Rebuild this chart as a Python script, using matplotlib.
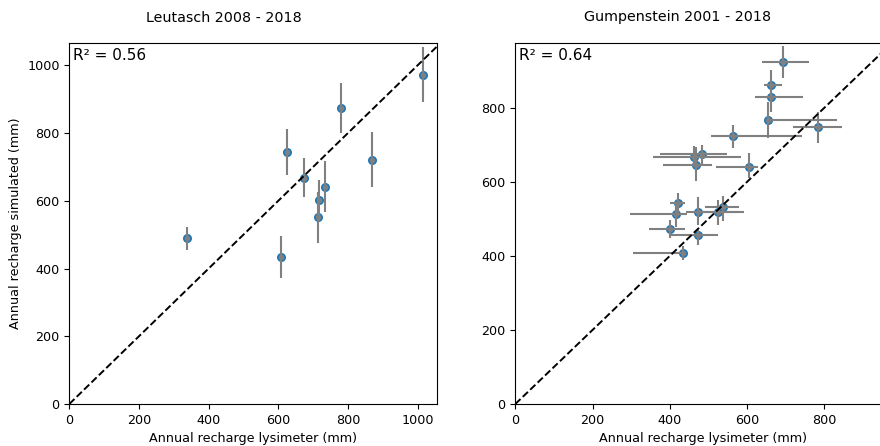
import numpy as np
import matplotlib
matplotlib.use("Agg")
import matplotlib.pyplot as plt

# Leutasch 2008 - 2018
leu_obs = [338, 608, 624, 675, 718, 715, 735, 780, 868, 1016]
leu_sim = [489, 435, 744, 668, 601, 551, 642, 874, 722, 973]
leu_sim_err = [33, 62, 67, 58, 60, 76, 76, 74, 80, 82]

# Gumpenstein 2001 - 2018
gum_obs = [692, 661, 662, 655, 785, 563, 420, 416, 472, 526, 537, 401, 472, 433, 463, 467, 484, 605]
gum_sim = [923, 863, 829, 766, 748, 724, 542, 514, 520, 518, 531, 474, 457, 407, 667, 646, 674, 641]
gum_obs_lo = [640, 645, 621, 655, 719, 506, 400, 297, 441, 470, 490, 347, 401, 306, 356, 382, 375, 520]
gum_obs_hi = [761, 690, 744, 833, 846, 742, 440, 444, 578, 593, 580, 440, 524, 440, 584, 510, 549, 628]
gum_sim_lo = [880, 823, 790, 718, 706, 691, 515, 479, 484, 484, 493, 448, 430, 389, 640, 603, 646, 610]
gum_sim_hi = [966, 903, 868, 817, 790, 754, 569, 542, 559, 551, 562, 497, 470, 427, 697, 695, 699, 677]

r2 = ["R\u00b2 = 0.56", "R\u00b2 = 0.64"]
titles = ["Leutasch 2008 - 2018", "Gumpenstein 2001 - 2018"]

W, H = 880, 446
fig = plt.figure(figsize=(W/100, H/100), dpi=100)
ax1 = fig.add_axes([69.3/W, 42/H, 367.4/W, 361.3/H])
ax2 = fig.add_axes([515.3/W, 42/H, 375.4/W, 361.3/H])

# left
lim1x, lim1y = 1055, 1067
ax1.scatter(leu_obs, leu_sim, s=30, color="#1f77b4", zorder=2)
ax1.errorbar(leu_obs, leu_sim, yerr=leu_sim_err, fmt="o", ms=3, color="grey",
             elinewidth=1.5, zorder=3)
ax1.plot([0, lim1y], [0, lim1y], "k--", lw=1.4, zorder=4)
ax1.set_xlim(0, lim1x)
ax1.set_ylim(0, lim1y)
ax1.set_ylabel("Annual recharge simulated (mm)", fontsize=9.2)

# right
gx = np.array(gum_obs)
gy = np.array(gum_sim)
xerr = [gx - np.array(gum_obs_lo), np.array(gum_obs_hi) - gx]
yerr = [gy - np.array(gum_sim_lo), np.array(gum_sim_hi) - gy]
lim2x, lim2y = 972, 976
ax2.scatter(gx, gy, s=30, color="#1f77b4", zorder=2)
ax2.errorbar(gx, gy, xerr=xerr, yerr=yerr, fmt="o", ms=3, color="grey",
             elinewidth=1.5, zorder=3)
ax2.plot([0, lim2y], [0, lim2y], "k--", lw=1.4, zorder=4)
ax2.set_xlim(0, lim2x)
ax2.set_ylim(0, lim2y)

for ax, t in zip([ax1, ax2], r2):
    ax.set_xlabel("Annual recharge lysimeter (mm)", fontsize=9.2)
    ax.tick_params(labelsize=9.2)
    ax.text(0.011, 0.985, t, transform=ax.transAxes, ha="left", va="top", fontsize=11)

fig.text(224/W, 1 - 17.5/H, titles[0], ha="center", va="center", fontsize=10.3)
fig.text(678/W, 1 - 17.5/H, titles[1], ha="center", va="center", fontsize=10.3)

fig.savefig("out.png", dpi=100)
